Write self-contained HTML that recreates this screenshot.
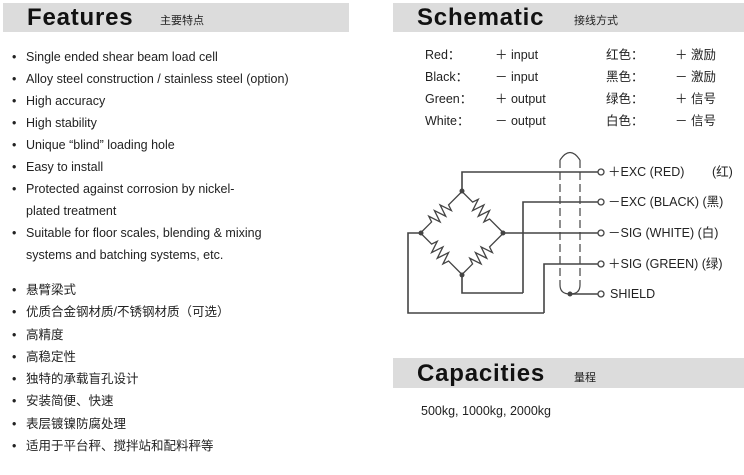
<!DOCTYPE html>
<html><head><meta charset="utf-8"><style>
body{margin:0;width:744px;height:475px;background:#fff;position:relative;overflow:hidden;font-family:"Liberation Sans","Noto Sans CJK SC",sans-serif;color:#222}
.bar{position:absolute;background:#dcdcdc;height:29px;top:3px}
.h{position:absolute;font-weight:900;font-size:24px;color:#111;letter-spacing:0.8px;line-height:30px}
.s{position:absolute;font-size:11px;color:#222;line-height:14px}
.t{position:absolute;font-size:12.5px;white-space:nowrap;line-height:16px}
.li{position:absolute;left:12px;font-size:12.5px;white-space:nowrap;line-height:16px;height:16px}
.li:before{content:"•";position:absolute;left:0;top:0}
.li span{position:absolute;left:14px;top:0}
</style></head><body>
<div class="bar" style="left:3px;width:346px"></div>
<div class="h" style="left:27px;top:3px">Features</div>
<div class="s" style="left:160px;top:14px">主要特点</div>
<div class="bar" style="left:393px;width:351px"></div>
<div class="h" style="left:417px;top:3px">Schematic</div>
<div class="s" style="left:574px;top:14px">接线方式</div>
<div class="bar" style="left:393px;top:358px;height:30px;width:351px"></div>
<div class="h" style="left:417px;top:359px">Capacities</div>
<div class="s" style="left:574px;top:371px">量程</div>
<div class="t" style="left:421px;top:403px">500kg, 1000kg, 2000kg</div>

<div class="li" style="top:49px"><span>Single ended shear beam load cell</span></div>
<div class="li" style="top:71px"><span>Alloy steel construction / stainless steel (option)</span></div>
<div class="li" style="top:93px"><span>High accuracy</span></div>
<div class="li" style="top:115px"><span>High stability</span></div>
<div class="li" style="top:137px"><span>Unique “blind” loading hole</span></div>
<div class="li" style="top:159px"><span>Easy to install</span></div>
<div class="li" style="top:181px"><span>Protected against corrosion by nickel-</span></div>
<div class="t" style="left:26px;top:203px">plated treatment</div>
<div class="li" style="top:225px"><span>Suitable for floor scales, blending &amp; mixing</span></div>
<div class="t" style="left:26px;top:247px">systems and batching systems, etc.</div>
<div class="li" style="top:282px"><span>悬臂梁式</span></div>
<div class="li" style="top:304px"><span>优质合金钢材质/不锈钢材质（可选）</span></div>
<div class="li" style="top:327px"><span>高精度</span></div>
<div class="li" style="top:349px"><span>高稳定性</span></div>
<div class="li" style="top:371px"><span>独特的承载盲孔设计</span></div>
<div class="li" style="top:393px"><span>安装简便、快速</span></div>
<div class="li" style="top:416px"><span>表层镀镍防腐处理</span></div>
<div class="li" style="top:438px"><span>适用于平台秤、搅拌站和配料秤等</span></div>

<div class="t" style="left:425px;top:47px">Red：</div><div class="t" style="left:495px;top:47px">＋ input</div><div class="t" style="left:606px;top:47px">红色：</div><div class="t" style="left:675px;top:47px">＋ 激励</div>
<div class="t" style="left:425px;top:69px">Black：</div><div class="t" style="left:495px;top:69px">－ input</div><div class="t" style="left:606px;top:69px">黑色：</div><div class="t" style="left:675px;top:69px">－ 激励</div>
<div class="t" style="left:425px;top:91px">Green：</div><div class="t" style="left:495px;top:91px">＋ output</div><div class="t" style="left:606px;top:91px">绿色：</div><div class="t" style="left:675px;top:91px">＋ 信号</div>
<div class="t" style="left:425px;top:113px">White：</div><div class="t" style="left:495px;top:113px">－ output</div><div class="t" style="left:606px;top:113px">白色：</div><div class="t" style="left:675px;top:113px">－ 信号</div>

<svg width="744" height="475" style="position:absolute;left:0;top:0" fill="none" stroke="#444" stroke-width="1.6">
<path d="M462 191V172H598M523 293V202H598M503 233H598M544 313V264H598M462 275V293H523M421 233H408V313H544M570 294H598"/>
<g stroke-width="1.3">
<path transform="translate(441.5,212) rotate(-45)" d="M-29 0H-14l2-6 4 12 4-12 4 12 4-12 4 12 2-6H29"/>
<path transform="translate(482.5,212) rotate(45)" d="M-29 0H-14l2-6 4 12 4-12 4 12 4-12 4 12 2-6H29"/>
<path transform="translate(441.5,254) rotate(45)" d="M-29 0H-14l2-6 4 12 4-12 4 12 4-12 4 12 2-6H29"/>
<path transform="translate(482.5,254) rotate(-45)" d="M-29 0H-14l2-6 4 12 4-12 4 12 4-12 4 12 2-6H29"/>
</g>
<path d="M560 160V285M580 160V285" stroke-dasharray="8 4" stroke-width="1.2"/>
<path d="M560 160Q570 145 580 160M560 285Q560 294 570 294Q580 294 580 285" stroke-width="1.2"/>
<g fill="#fff" stroke-width="1.3"><circle cx="601" cy="172" r="3"/><circle cx="601" cy="202" r="3"/><circle cx="601" cy="233" r="3"/><circle cx="601" cy="264" r="3"/><circle cx="601" cy="294" r="3"/></g>
<g fill="#444" stroke="none"><circle cx="462" cy="191" r="2.5"/><circle cx="421" cy="233" r="2.5"/><circle cx="503" cy="233" r="2.5"/><circle cx="462" cy="275" r="2.5"/><circle cx="570" cy="294" r="2.5"/></g>
</svg>
<div class="t" style="left:608px;top:164px">＋EXC (RED)</div><div class="t" style="left:712px;top:164px">(红)</div>
<div class="t" style="left:608px;top:194px">－EXC (BLACK) (黑)</div>
<div class="t" style="left:608px;top:225px">－SIG (WHITE) (白)</div>
<div class="t" style="left:608px;top:256px">＋SIG (GREEN) (绿)</div>
<div class="t" style="left:610px;top:286px">SHIELD</div>
</body></html>
